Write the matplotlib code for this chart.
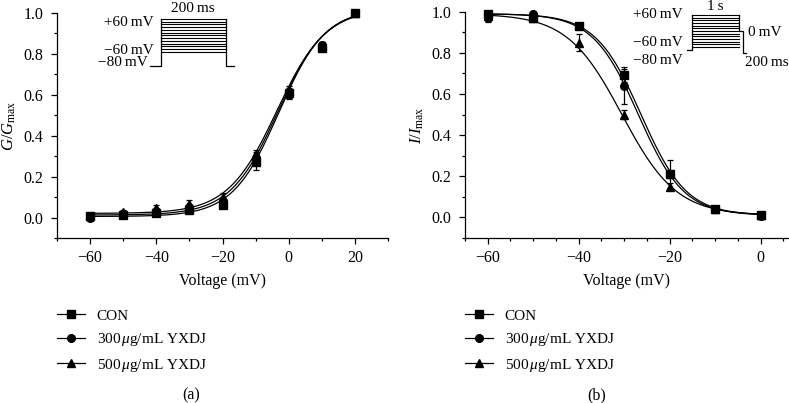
import numpy as np
import matplotlib
matplotlib.use("Agg")
import matplotlib.pyplot as plt
from matplotlib.ticker import MultipleLocator

plt.rcParams['font.family'] = ['Liberation Serif', 'DejaVu Serif']
plt.rcParams['mathtext.fontset'] = 'custom'
plt.rcParams['mathtext.rm'] = 'Liberation Serif'
plt.rcParams['mathtext.it'] = 'Liberation Serif:italic'

# ---- data ----
groups = ['CON', r'300$\,\mu$g/mL YXDJ', r'500$\,\mu$g/mL YXDJ']
markers = ['s', 'o', '^']

# (a) activation, G/Gmax
act_v = [-60, -50, -40, -30, -20, -10, 0, 10, 20]
act_con = [0.005, 0.010, 0.020, 0.035, 0.060, 0.27, 0.61, 0.83, 1.00]
act_300 = [0.000, 0.015, 0.030, 0.050, 0.080, 0.29, 0.60, 0.84, 1.00]
act_500 = [0.005, 0.025, 0.045, 0.065, 0.100, 0.31, 0.62, 0.84, 1.00]
act_con_err = [0.005, 0.005, 0.010, 0.010, 0.015, 0.040, 0.020, 0.015, 0.010]
act_300_err = [0.005, 0.005, 0.010, 0.010, 0.010, 0.030, 0.020, 0.015, 0.010]
act_500_err = [0.005, 0.010, 0.015, 0.020, 0.020, 0.020, 0.020, 0.015, 0.010]
# Boltzmann fit parameters: bottom, top, V1/2, slope
act_fit = [(0.005, 1.02, -3.0, 7.0), (0.012, 1.02, -3.3, 7.2), (0.020, 1.02, -3.6, 7.4)]

# (b) inactivation, I/Imax
inact_v = [-60, -50, -40, -30, -20, -10, 0]
inact_con = [0.99, 0.97, 0.93, 0.69, 0.21, 0.04, 0.010]
inact_300 = [0.97, 0.99, 0.93, 0.64, 0.21, 0.04, 0.005]
inact_500 = [0.98, 0.97, 0.85, 0.50, 0.15, 0.04, 0.010]
inact_con_err = [0.010, 0.010, 0.015, 0.030, 0.070, 0.010, 0.010]
inact_300_err = [0.020, 0.010, 0.015, 0.090, 0.020, 0.010, 0.010]
inact_500_err = [0.010, 0.010, 0.040, 0.020, 0.015, 0.010, 0.010]
inact_fit = [(0.01, 0.99, -26.3, 5.0), (0.01, 0.99, -26.9, 5.0), (0.01, 0.99, -30.5, 6.0)]

# voltage protocols (insets)
steps = list(range(-60, 70, 10))
hold = -80
prepulse_ms = 1000
test_ms = 200

W, H = 789, 403
fig = plt.figure(figsize=(W / 100, H / 100), dpi=100)


def fx(x):
    return x / W


def fy(y):
    return 1 - y / H


def style_axes(ax):
    for s in ['top', 'right']:
        ax.spines[s].set_visible(False)
    for s in ['left', 'bottom']:
        ax.spines[s].set_linewidth(0.9)
    ax.tick_params(which='major', direction='out', length=4, width=0.9, labelsize=11.5)
    ax.tick_params(which='minor', direction='out', length=2.5, width=0.9)
    ax.tick_params(axis='y', pad=6)
    ax.tick_params(axis='x', pad=5)
    ax.yaxis.set_major_locator(MultipleLocator(0.2))
    ax.yaxis.set_minor_locator(MultipleLocator(0.1))
    ax.set_ylim(-0.1, 1.0)
    ax.yaxis.set_major_formatter(plt.FuncFormatter(lambda v, p: f"{v:.1f}"))
    ax.xaxis.set_major_formatter(plt.FuncFormatter(lambda v, p: f"{int(round(v))}".replace('-', '\u2212')))


def draw_series(ax, v, ys, errs, fits, rising):
    vv = np.linspace(v[0], v[-1], 300)
    for (bot, top, vh, k) in fits:
        if rising:
            curve = bot + (top - bot) / (1 + np.exp((vh - vv) / k))
        else:
            curve = bot + (top - bot) / (1 + np.exp((vv - vh) / k))
        ax.plot(vv, curve, color='black', lw=0.9, zorder=2)
    for y, e, m in zip(ys, errs, markers):
        ax.errorbar(v, y, yerr=e, fmt=m, color='black', ms=5.5 if m != '^' else 6,
                    elinewidth=0.9, capsize=2.5, capthick=0.9, zorder=3, clip_on=False)


# ---- panel (a) ----
ax1 = fig.add_axes([fx(57), fy(238), fx(388 - 57), fy(12.7) - fy(238)])
style_axes(ax1)
ax1.set_xlim(-70, 30)
ax1.xaxis.set_major_locator(MultipleLocator(20))
ax1.xaxis.set_minor_locator(MultipleLocator(10))
draw_series(ax1, act_v, [act_con, act_300, act_500],
            [act_con_err, act_300_err, act_500_err], act_fit, True)
ax1.set_xlabel('Voltage (mV)', fontsize=11.5, labelpad=5)
ax1.set_ylabel(r'$G/G_{\rm max}$', fontsize=12, labelpad=4)

# ---- panel (b) ----
ax2 = fig.add_axes([fx(465), fy(238), fx(788 - 465), fy(11.7) - fy(238)])
style_axes(ax2)
ax2.set_xlim(-65, 6)
ax2.xaxis.set_major_locator(MultipleLocator(20))
ax2.xaxis.set_minor_locator(MultipleLocator(5))
draw_series(ax2, inact_v, [inact_con, inact_300, inact_500],
            [inact_con_err, inact_300_err, inact_500_err], inact_fit, False)
ax2.set_xlabel('Voltage (mV)', fontsize=11.5, labelpad=5)
ax2.set_ylabel(r'$I/I_{\rm max}$', fontsize=12, labelpad=4)

# ---- legends ----
for ax, x0 in [(ax1, 57), (ax2, 465)]:
    handles = [plt.Line2D([], [], color='black', lw=0.9, marker=m, ms=5.5) for m in markers]
    fig.legend(handles, groups, loc='upper left', bbox_to_anchor=(fx(x0), fy(309)),
               frameon=False, fontsize=11, handlelength=1.8, handletextpad=0.8,
               labelspacing=0.55, borderpad=0, borderaxespad=0)

fig.text(fx(191), fy(395), '(a)', ha='center', va='center', fontsize=11.5)
fig.text(fx(597), fy(395), '(b)', ha='center', va='center', fontsize=11.5)

# ---- inset (a): activation protocol, drawn schematically ----
ins1 = fig.add_axes([fx(150), fy(66), fx(234 - 150), fy(19) - fy(66)])
ins1.set_xlim(0, 1)
ins1.set_ylim(0, 1)
ins1.axis('off')
t0, t1 = 11 / 84, 76 / 84
levels = np.linspace(0.30, 1.0, len(steps))
for lv in levels:
    ins1.plot([t0, t1], [lv, lv], color='black', lw=0.8, clip_on=False)
ins1.plot([0, t0, t0], [0, 0, 1], color='black', lw=0.9, clip_on=False)
ins1.plot([t1, t1, 1], [1, 0, 0], color='black', lw=0.9, clip_on=False)
fig.text(fx(193), fy(9), '200\u2009ms', ha='center', va='center', fontsize=11)
fig.text(fx(154), fy(22), '+60\u2009mV', ha='right', va='center', fontsize=11)
fig.text(fx(154), fy(50), '\u221260\u2009mV', ha='right', va='center', fontsize=11)
fig.text(fx(148), fy(63), '\u221280\u2009mV', ha='right', va='center', fontsize=11)

# ---- inset (b): inactivation protocol (voltage units, time schematic) ----
ins2 = fig.add_axes([fx(687), fy(53), fx(746 - 687), fy(15) - fy(53)])
ins2.set_xlim(-106, 1149)
ins2.set_ylim(hold - 2.5, steps[-1])
ins2.axis('off')
for s in steps:
    ins2.plot([0, prepulse_ms], [s, s], color='black', lw=0.8, clip_on=False)
ins2.plot([-106, 0, 0], [hold + 9, hold + 9, steps[-1]], color='black', lw=0.9, clip_on=False)
t_end = prepulse_ms + test_ms * 0.43
ins2.plot([prepulse_ms, prepulse_ms, t_end, t_end, 1149],
          [steps[-1], 0, 0, hold - 2.5, hold - 2.5], color='black', lw=0.9, clip_on=False)
fig.text(fx(715), fy(6), '1\u2009s', ha='center', va='center', fontsize=11)
fig.text(fx(683), fy(15), '+60\u2009mV', ha='right', va='center', fontsize=11)
fig.text(fx(683), fy(43), '\u221260\u2009mV', ha='right', va='center', fontsize=11)
fig.text(fx(683), fy(61), '\u221280\u2009mV', ha='right', va='center', fontsize=11)
fig.text(fx(748), fy(32), '0\u2009mV', ha='left', va='center', fontsize=11)
fig.text(fx(745), fy(62), '200\u2009ms', ha='left', va='center', fontsize=11)

fig.savefig('out.png', dpi=100)
